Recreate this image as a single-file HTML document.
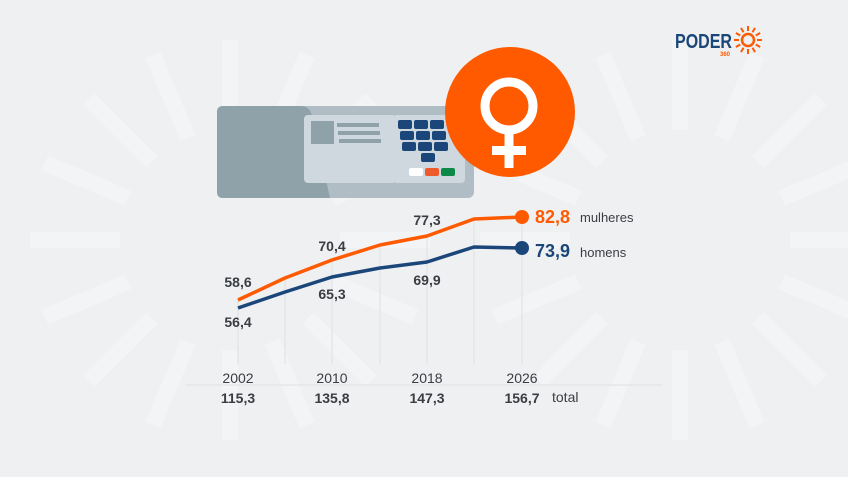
<!DOCTYPE html>
<html><head><style>
body{margin:0;background:#eff0f2;}
svg{display:block;font-family:"Liberation Sans",sans-serif;}
</style></head><body>
<svg width="848" height="477" viewBox="0 0 848 477">
<rect width="848" height="477" fill="#eff0f2"/>
<g stroke="#f8f9fa" stroke-width="16" opacity="0.55">
<g id="sb">
<line x1="230" y1="40" x2="230" y2="130"/>
<line x1="230" y1="440" x2="230" y2="350"/>
<line x1="30" y1="240" x2="120" y2="240"/>
<line x1="430" y1="240" x2="340" y2="240"/>
<line x1="89" y1="99" x2="152" y2="162"/>
<line x1="371" y1="381" x2="308" y2="318"/>
<line x1="89" y1="381" x2="152" y2="318"/>
<line x1="371" y1="99" x2="308" y2="162"/>
<line x1="153" y1="55" x2="188" y2="138"/>
<line x1="307" y1="425" x2="272" y2="342"/>
<line x1="45" y1="163" x2="128" y2="198"/>
<line x1="415" y1="317" x2="332" y2="282"/>
<line x1="45" y1="317" x2="128" y2="282"/>
<line x1="415" y1="163" x2="332" y2="198"/>
<line x1="153" y1="425" x2="188" y2="342"/>
<line x1="307" y1="55" x2="272" y2="138"/>
</g>
<use href="#sb" transform="translate(450,0)"/>
</g>
<!-- voting machine -->
<rect x="217" y="106" width="257" height="92" rx="6" fill="#b0bdc4"/>
<path d="M223 106 H300 Q310 106 312 116 L330 198 H223 Q217 198 217 192 V112 Q217 106 223 106Z" fill="#8fa2aa"/>
<rect x="304" y="115" width="92" height="68" rx="4" fill="#cfd8de"/>
<rect x="311" y="121" width="23" height="23" fill="#8fa2aa"/>
<rect x="337" y="123" width="42" height="4" fill="#8fa2aa"/>
<rect x="338" y="131" width="42" height="4" fill="#8fa2aa"/>
<rect x="339" y="139" width="42" height="4" fill="#8fa2aa"/>
<rect x="393" y="115" width="72" height="68" rx="4" fill="#cfd8de"/>
<g fill="#1b4679">
<rect x="398" y="120" width="14" height="9" rx="2"/><rect x="414" y="120" width="14" height="9" rx="2"/><rect x="430" y="120" width="14" height="9" rx="2"/>
<rect x="400" y="131" width="14" height="9" rx="2"/><rect x="416" y="131" width="14" height="9" rx="2"/><rect x="432" y="131" width="14" height="9" rx="2"/>
<rect x="402" y="142" width="14" height="9" rx="2"/><rect x="418" y="142" width="14" height="9" rx="2"/><rect x="434" y="142" width="14" height="9" rx="2"/>
<rect x="421" y="153" width="14" height="9" rx="2"/>
</g>
<rect x="409" y="168" width="14" height="8" rx="2" fill="#fff"/>
<rect x="425" y="168" width="14" height="8" rx="2" fill="#ef5a2a"/>
<rect x="441" y="168" width="14" height="8" rx="2" fill="#0d8a4a"/>
<!-- female symbol -->
<circle cx="510" cy="112" r="65" fill="#ff5a00"/>
<circle cx="509" cy="106" r="24" fill="none" stroke="#fff" stroke-width="9"/>
<rect x="504.5" y="130" width="9" height="38" fill="#fff"/>
<rect x="492" y="146" width="34" height="9" fill="#fff"/>
<!-- logo -->
<text x="675" y="48" font-size="20" font-weight="bold" fill="#1b4679" textLength="57" lengthAdjust="spacingAndGlyphs">PODER</text>
<text x="720" y="56" font-size="6" font-weight="bold" fill="#ff5a00">360</text>
<g stroke="#ff5a00" stroke-width="2">
<circle cx="748" cy="40" r="6" fill="none" stroke-width="2.5"/>
<g id="ray"><line x1="748" y1="31" x2="748" y2="26"/></g>
<use href="#ray" transform="rotate(30 748 40)"/><use href="#ray" transform="rotate(60 748 40)"/><use href="#ray" transform="rotate(90 748 40)"/><use href="#ray" transform="rotate(120 748 40)"/><use href="#ray" transform="rotate(150 748 40)"/><use href="#ray" transform="rotate(180 748 40)"/><use href="#ray" transform="rotate(210 748 40)"/><use href="#ray" transform="rotate(240 748 40)"/><use href="#ray" transform="rotate(270 748 40)"/><use href="#ray" transform="rotate(300 748 40)"/><use href="#ray" transform="rotate(330 748 40)"/>
</g>
<!-- grid -->
<g stroke="#dcdfe3" stroke-width="1">
<line x1="238" y1="300" x2="238" y2="364"/>
<line x1="285" y1="278" x2="285" y2="364"/>
<line x1="332" y1="260" x2="332" y2="364"/>
<line x1="380" y1="245" x2="380" y2="364"/>
<line x1="427" y1="236" x2="427" y2="364"/>
<line x1="474" y1="219" x2="474" y2="364"/>
<line x1="522" y1="217" x2="522" y2="364"/>
<line x1="186" y1="385" x2="662" y2="385"/>
</g>
<polyline points="238,300 285,278 332,260 380,245 427,236 474,219 522,217" fill="none" stroke="#ff5a00" stroke-width="3.5" stroke-linejoin="round"/>
<polyline points="238,308 285,292 332,277 380,268 427,262 474,247 522,248" fill="none" stroke="#1b4679" stroke-width="3.5" stroke-linejoin="round"/>
<circle cx="522" cy="217" r="7" fill="#ff5a00"/>
<circle cx="522" cy="248" r="7" fill="#1b4679"/>
<g font-size="14" font-weight="bold" fill="#3a3d42" text-anchor="middle">
<text x="238" y="287">58,6</text><text x="238" y="327">56,4</text>
<text x="332" y="251">70,4</text><text x="332" y="299">65,3</text>
<text x="427" y="225">77,3</text><text x="427" y="285">69,9</text>
</g>
<text x="535" y="223" font-size="18" font-weight="bold" fill="#ff5a00">82,8</text>
<text x="535" y="257" font-size="18" font-weight="bold" fill="#1b4679">73,9</text>
<text x="580" y="222" font-size="13" fill="#3a3d42">mulheres</text>
<text x="580" y="257" font-size="13" fill="#3a3d42">homens</text>
<g font-size="14" fill="#3a3d42" text-anchor="middle">
<text x="238" y="383">2002</text><text x="332" y="383">2010</text><text x="427" y="383">2018</text><text x="522" y="383">2026</text>
</g>
<g font-size="14" font-weight="bold" fill="#3a3d42" text-anchor="middle">
<text x="238" y="403">115,3</text><text x="332" y="403">135,8</text><text x="427" y="403">147,3</text><text x="522" y="403">156,7</text>
</g>
<text x="552" y="402" font-size="14" fill="#3a3d42">total</text>
</svg>
</body></html>
